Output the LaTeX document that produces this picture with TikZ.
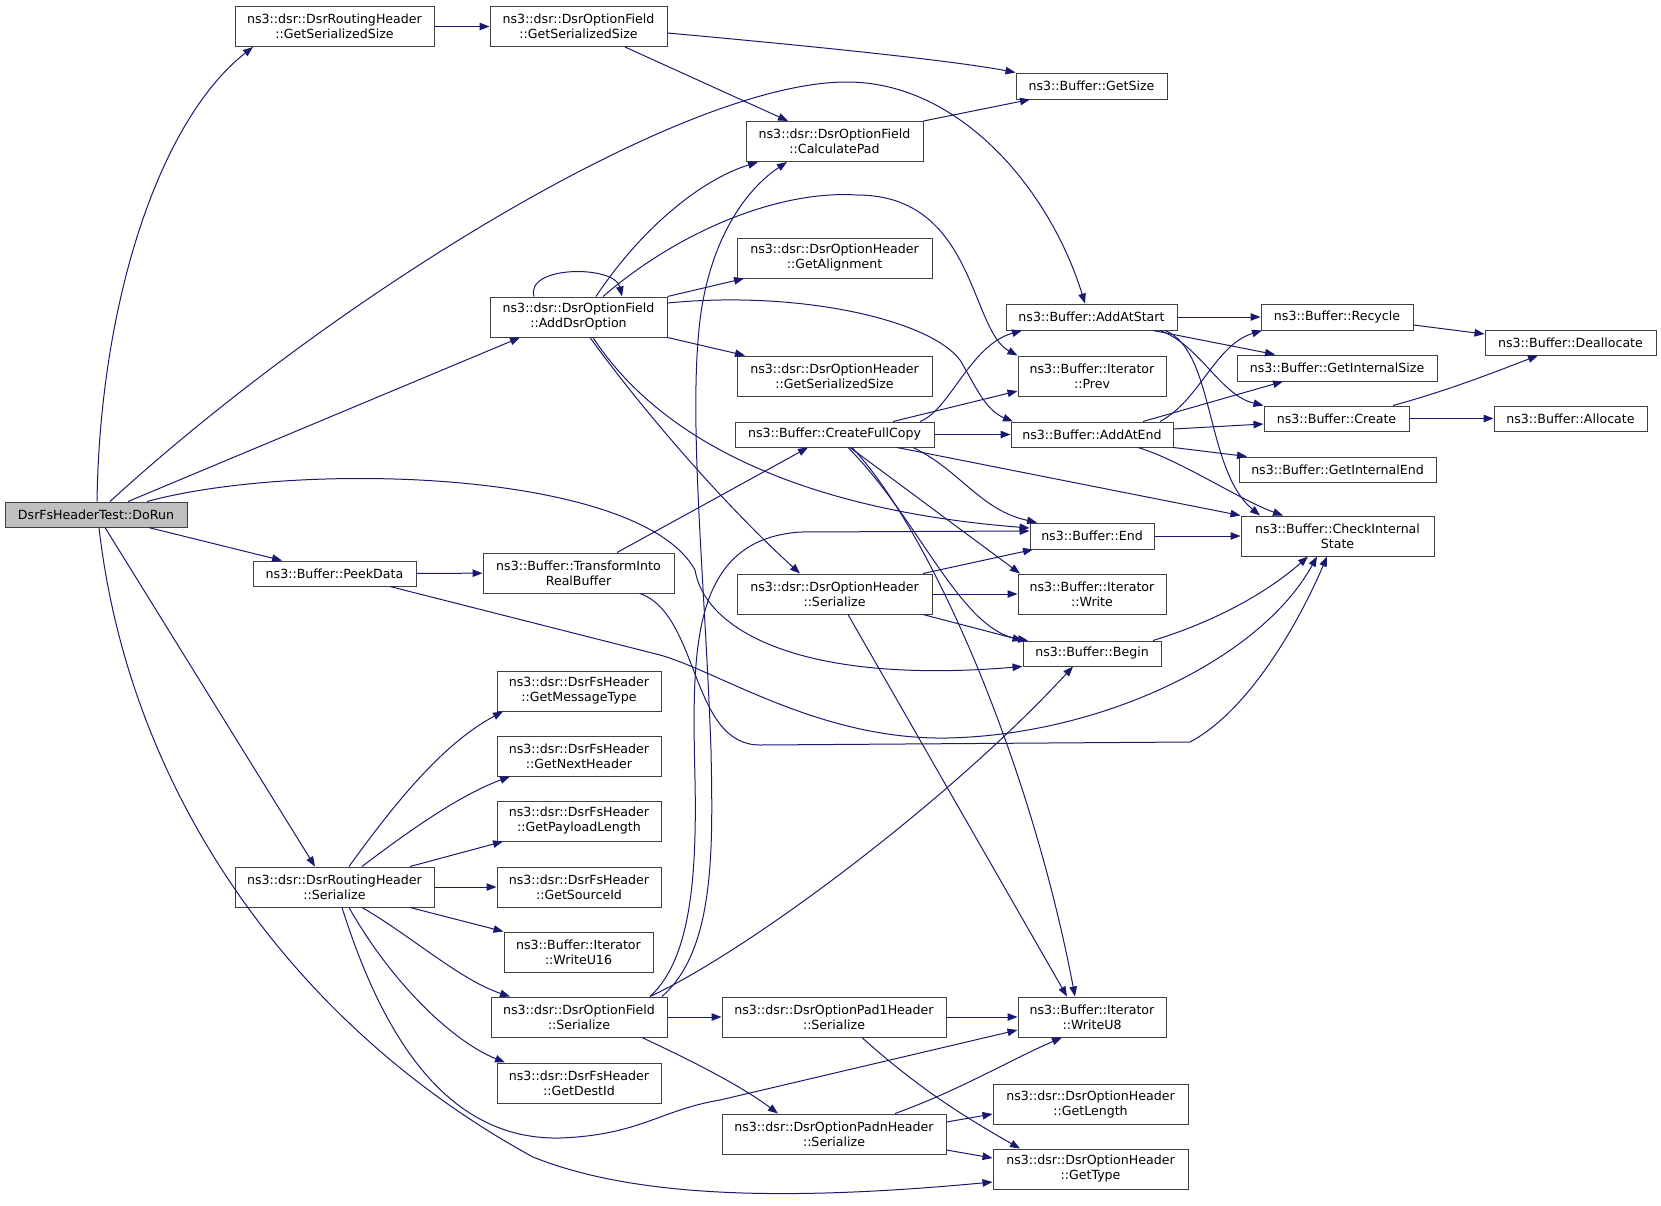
\documentclass[tikz,border=0pt]{standalone}
\usepackage{fontspec}
\setmainfont{DejaVu Sans}
\usetikzlibrary{arrows.meta}
\definecolor{edgeblue}{HTML}{191970}
\tikzset{
  fn/.style={draw=black!75, line width=1pt, fill=white, inner sep=0pt,
    minimum height=40pt, align=center, font=\fontsize{12.6pt}{15pt}\selectfont},
  fn1/.style={fn, minimum height=25pt},
  root/.style={fn1, fill=black!25},
  call/.style={draw=edgeblue, line width=1pt, -{Triangle[length=10pt,width=7.5pt]}}
}
\begin{document}
\begin{tikzpicture}[x=1pt,y=-1pt]
\useasboundingbox (0,0) rectangle (1661,1205);

% functions
\node [root, minimum width=182pt] (dorun) at (96,514.5) {DsrFsHeaderTest::DoRun};
\node [fn, minimum width=199pt] (rhgss) at (334.5,26.5) {ns3::dsr::DsrRoutingHeader\\::GetSerializedSize};
\node [fn1, minimum width=163pt] (peek) at (334.5,573.5) {ns3::Buffer::PeekData};
\node [fn, minimum width=199pt] (rhser) at (334.5,887) {ns3::dsr::DsrRoutingHeader\\::Serialize};

\node [fn, minimum width=177pt] (ofgss) at (578.5,26.5) {ns3::dsr::DsrOptionField\\::GetSerializedSize};
\node [fn, minimum width=177pt] (addopt) at (578.5,317) {ns3::dsr::DsrOptionField\\::AddDsrOption};
\node [fn, minimum width=191pt] (transform) at (578.5,573) {ns3::Buffer::TransformInto\\RealBuffer};
\node [fn, minimum width=164pt] (msgtype) at (579,691) {ns3::dsr::DsrFsHeader\\::GetMessageType};
\node [fn, minimum width=164pt] (nexthdr) at (579,756) {ns3::dsr::DsrFsHeader\\::GetNextHeader};
\node [fn, minimum width=164pt] (payload) at (579,821) {ns3::dsr::DsrFsHeader\\::GetPayloadLength};
\node [fn, minimum width=164pt] (srcid) at (579,887) {ns3::dsr::DsrFsHeader\\::GetSourceId};
\node [fn, minimum width=149pt] (writeu16) at (578.5,952) {ns3::Buffer::Iterator\\::WriteU16};
\node [fn, minimum width=176pt] (ofser) at (579,1017) {ns3::dsr::DsrOptionField\\::Serialize};
\node [fn, minimum width=164pt] (destid) at (579,1083) {ns3::dsr::DsrFsHeader\\::GetDestId};

\node [fn, minimum width=177pt] (calcpad) at (834.5,141.5) {ns3::dsr::DsrOptionField\\::CalculatePad};
\node [fn, minimum width=195pt] (getalign) at (834.5,258) {ns3::dsr::DsrOptionHeader\\::GetAlignment};
\node [fn, minimum width=195pt] (ohgss) at (834.5,376) {ns3::dsr::DsrOptionHeader\\::GetSerializedSize};
\node [fn1, minimum width=199pt] (fullcopy) at (834.5,434.5) {ns3::Buffer::CreateFullCopy};
\node [fn, minimum width=195pt] (ohser) at (834.5,594) {ns3::dsr::DsrOptionHeader\\::Serialize};
\node [fn, minimum width=224pt] (pad1) at (834,1017) {ns3::dsr::DsrOptionPad1Header\\::Serialize};
\node [fn, minimum width=224pt] (padn) at (834,1134) {ns3::dsr::DsrOptionPadnHeader\\::Serialize};

\node [fn1, minimum width=151pt, minimum height=26pt] (getsize) at (1091.5,86) {ns3::Buffer::GetSize};
\node [fn1, minimum width=171pt, minimum height=26pt] (addstart) at (1091.5,317) {ns3::Buffer::AddAtStart};
\node [fn, minimum width=148pt] (prev) at (1092,376) {ns3::Buffer::Iterator\\::Prev};
\node [fn1, minimum width=162pt] (addend) at (1092,434.5) {ns3::Buffer::AddAtEnd};
\node [fn1, minimum width=124pt, minimum height=26pt] (bend) at (1092,536) {ns3::Buffer::End};
\node [fn, minimum width=148pt] (write) at (1092,594) {ns3::Buffer::Iterator\\::Write};
\node [fn1, minimum width=138pt] (begin) at (1092,653.5) {ns3::Buffer::Begin};
\node [fn, minimum width=148pt] (writeu8) at (1092,1017) {ns3::Buffer::Iterator\\::WriteU8};
\node [fn, minimum width=195pt] (getlength) at (1090.5,1104.5) {ns3::dsr::DsrOptionHeader\\::GetLength};
\node [fn, minimum width=195pt] (gettype) at (1090.5,1169) {ns3::dsr::DsrOptionHeader\\::GetType};

\node [fn1, minimum width=152pt, minimum height=26pt] (recycle) at (1337,317) {ns3::Buffer::Recycle};
\node [fn1, minimum width=200pt, minimum height=26pt] (intsize) at (1337,368) {ns3::Buffer::GetInternalSize};
\node [fn1, minimum width=145pt] (create) at (1336.5,418.5) {ns3::Buffer::Create};
\node [fn1, minimum width=197pt] (intend) at (1337.5,469.5) {ns3::Buffer::GetInternalEnd};
\node [fn, minimum width=193pt] (checkst) at (1337.5,536) {ns3::Buffer::CheckInternal\\State};
\node [fn1, minimum width=171pt] (dealloc) at (1570.5,342.5) {ns3::Buffer::Deallocate};
\node [fn1, minimum width=153pt] (alloc) at (1570.5,418.5) {ns3::Buffer::Allocate};

% calls of DoRun
\draw [call] (97,0 |- dorun.north) .. controls (100,300) and (160,120) .. (253,0 |- rhgss.south);
\draw [call] (110,0 |- dorun.north) .. controls (330,300) and (680,82) .. (847,82)
  .. controls (960,82) and (1050,190) .. (1085,0 |- addstart.north);
\draw [call] (128,0 |- dorun.north) -- (520,0 |- addopt.south);
\draw [call] (147,0 |- dorun.north) .. controls (300,460) and (640,470) .. (695,570)
  .. controls (705,630) and (800,685) .. (begin.south west);
\draw [call] (dorun) -- (peek);
\draw [call] (105,0 |- dorun.south) -- (315,0 |- rhser.north);
\draw [call] (99,0 |- dorun.south) .. controls (130,800) and (300,1030) .. (533,1157)
  .. controls (640,1200) and (800,1200) .. (gettype.west |- 0,1182);

% upper part
\draw [call] (rhgss) -- (ofgss);
\draw [call] (ofgss.east |- 0,33) .. controls (800,45) and (950,60) .. (getsize.north west);
\draw [call] (625,0 |- ofgss.south) -- (788,0 |- calcpad.north);
\draw [call] (calcpad.north east) -- (1030,0 |- getsize.south);
\draw [call] (534,0 |- addopt.north) .. controls (525,265) and (615,265) .. (622,0 |- addopt.north);
\draw [call] (596,0 |- addopt.north) .. controls (640,230) and (700,180) .. (758,0 |- calcpad.south);
\draw [call] (603,0 |- addopt.north) .. controls (680,230) and (780,190) .. (857,195)
  .. controls (975,195) and (970,330) .. (prev.north west);
\draw [call] (addopt.north east) -- (744,0 |- getalign.south);
\draw [call] (addopt.east |- 0,303) .. controls (800,290) and (930,320) .. (960,360)
  .. controls (975,385) and (985,410) .. (1013,0 |- addend.north);
\draw [call] (addopt.south east) -- (745,0 |- ohgss.north);
\draw [call] (593,0 |- addopt.south) .. controls (660,440) and (800,510) .. (bend.west |- 0,528);
\draw [call] (590,0 |- addopt.south) .. controls (650,420) and (730,510) .. (800,0 |- ohser.north);

% buffer copies
\draw [call] (peek) -- (transform);
\draw [call] (617,0 |- transform.north) -- (808,0 |- fullcopy.south);
\draw [call] (640,0 |- transform.south) .. controls (700,615) and (690,745) .. (760,745) -- (1190,742)
  .. controls (1250,710) and (1300,620) .. (1327,0 |- checkst.south);
\draw [call] (390,0 |- peek.south) -- (660,655) .. controls (720,672) and (820,740) .. (947,738)
  .. controls (1100,735) and (1260,660) .. (1317,0 |- checkst.south);
\draw [call] (920,0 |- fullcopy.north) .. controls (950,410) and (970,345) .. (1022,0 |- addstart.south);
\draw [call] (893,0 |- fullcopy.north) -- (prev.west |- 0,391);
\draw [call] (fullcopy) -- (addend);
\draw [call] (897,0 |- fullcopy.south) -- (checkst.north west);
\draw [call] (913,0 |- fullcopy.south) .. controls (960,470) and (980,510) .. (1037,0 |- bend.north);
\draw [call] (850,0 |- fullcopy.south) -- (1020,0 |- write.north);
\draw [call] (848,0 |- fullcopy.south) .. controls (920,520) and (960,630) .. (1028,0 |- begin.north);
\draw [call] (852,0 |- fullcopy.south) .. controls (930,530) and (1030,760) .. (1075,0 |- writeu8.north);
\draw [call] (923,0 |- ohser.north) -- (1033,0 |- bend.south);
\draw [call] (ohser) -- (write);
\draw [call] (923,0 |- ohser.south) -- (begin.north west);
\draw [call] (848,0 |- ohser.south) -- (1067,0 |- writeu8.north);

% buffer internals
\draw [call] (addstart) -- (recycle);
\draw [call] (1153,0 |- addstart.south) -- (1275,0 |- intsize.north);
\draw [call] (1160,0 |- addstart.south) .. controls (1200,345) and (1220,395) .. (create.north west);
\draw [call] (1165,0 |- addstart.south) .. controls (1215,350) and (1205,470) .. (1260,0 |- checkst.north);
\draw [call] (1160,0 |- addend.north) .. controls (1200,400) and (1215,345) .. (1262,0 |- recycle.south);
\draw [call] (1143,0 |- addend.north) -- (1283,0 |- intsize.south);
\draw [call] (addend.east |- 0,429) -- (create.west |- 0,424);
\draw [call] (addend.south east) -- (1247,0 |- intend.north);
\draw [call] (1138,0 |- addend.south) .. controls (1180,460) and (1240,500) .. (1283,0 |- checkst.north);
\draw [call] (recycle.east |- 0,325) -- (dealloc.west |- 0,334);
\draw [call] (1393,0 |- create.north) .. controls (1450,390) and (1500,370) .. (1538,0 |- dealloc.south);
\draw [call] (create) -- (alloc);
\draw [call] (bend) -- (checkst);
\draw [call] (1153,0 |- begin.north) .. controls (1220,620) and (1270,590) .. (1308,0 |- checkst.south);

% serialize
\draw [call] (349,0 |- rhser.north) .. controls (390,810) and (440,745) .. (503,0 |- msgtype.south);
\draw [call] (362,0 |- rhser.north) .. controls (410,830) and (460,795) .. (510,0 |- nexthdr.south);
\draw [call] (410,0 |- rhser.north) -- (503,0 |- payload.south);
\draw [call] (rhser) -- (srcid);
\draw [call] (410,0 |- rhser.south) -- (writeu16.north west);
\draw [call] (362,0 |- rhser.south) .. controls (410,935) and (460,980) .. (510,0 |- ofser.north);
\draw [call] (349,0 |- rhser.south) .. controls (390,980) and (450,1040) .. (505,0 |- destid.north);
\draw [call] (342,0 |- rhser.south) .. controls (390,1060) and (460,1140) .. (560,1138)
  .. controls (640,1135) and (660,1110) .. (720,1100) -- (writeu8.west |- 0,1030);
\draw [call] (662,0 |- ofser.north) .. controls (715,950) and (713,850) .. (711,750)
  .. controls (705,580) and (688,420) .. (700,320) .. controls (710,240) and (745,190) .. (787,0 |- calcpad.south);
\draw [call] (650,0 |- ofser.north) .. controls (690,960) and (697,880) .. (695,780)
  .. controls (692,650) and (690,540) .. (800,532) -- (bend.west |- 0,531);
\draw [call] (650,0 |- ofser.north) .. controls (750,950) and (950,800) .. (1073,0 |- begin.south);
\draw [call] (ofser) -- (pad1);
\draw [call] (642,0 |- ofser.south) .. controls (690,1060) and (740,1085) .. (778,0 |- padn.north);
\draw [call] (pad1) -- (writeu8);
\draw [call] (862,0 |- pad1.south) .. controls (920,1090) and (970,1120) .. (1020,0 |- gettype.north);
\draw [call] (895,0 |- padn.north) .. controls (960,1090) and (1010,1060) .. (1062,0 |- writeu8.south);
\draw [call] (padn.east |- 0,1122) -- (getlength.west |- 0,1114);
\draw [call] (padn.east |- 0,1150) -- (gettype.west |- 0,1158);
\end{tikzpicture}
\end{document}
